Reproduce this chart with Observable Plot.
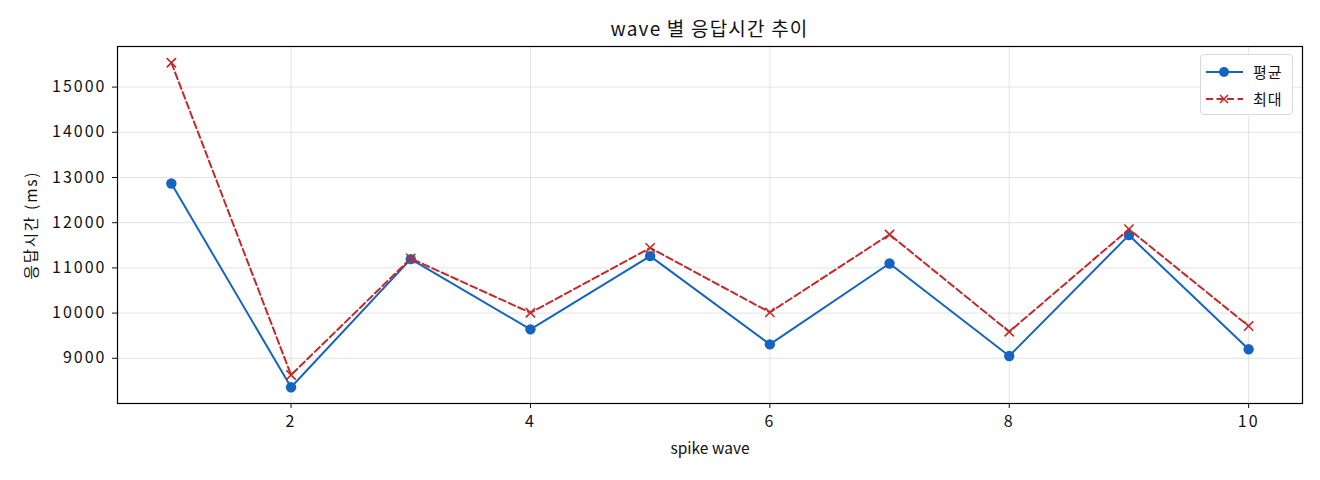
<!DOCTYPE html>
<html>
<head>
<meta charset="utf-8">
<script src="https://cdn.jsdelivr.net/npm/d3@7"></script>
<script src="https://cdn.jsdelivr.net/npm/@observablehq/plot@0.6"></script>
<style>
  body { margin: 0; background: #fff; font-family: "Noto Sans CJK KR", sans-serif; }
  #wrap { position: relative; width: 1320px; height: 480px; }
  #title { height: 45px; width: 1320px; position: relative; }
  #title span { position: absolute; left: 709.5px; top: 14px; transform: translateX(-50%); font-size: 19px; letter-spacing: 1.2px; color: #111; white-space: nowrap; }
  #legend { position: absolute; left: 1200px; top: 54px; width: 93px; height: 61px; border: 1px solid #d8d8d8; border-radius: 4px; background: rgba(255,255,255,0.85); box-sizing: border-box; font-size: 15px; letter-spacing: 1px; color: #111; }
  .row { position: absolute; left: 4px; height: 20px; width: 85px; white-space: nowrap; }
  .row svg { position: absolute; left: 0; top: 0; }
  .row span { position: absolute; left: 48px; top: 0px; line-height: 20px; white-space: nowrap; }
</style>
</head>
<body>
<div id="wrap">
  <div id="title"><span>wave 별 응답시간 추이</span></div>
  <div id="chart"></div>
  <div id="legend"></div>
</div>
<script>
const waves = [1, 2, 3, 4, 5, 6, 7, 8, 9, 10];
const meanMs = [12866, 8359, 11193, 9640, 11260, 9309, 11098, 9051, 11724, 9199];
const maxMs = [15539, 8631, 11209, 10007, 11443, 10016, 11739, 9588, 11856, 9713];
const yTicks = [9000, 10000, 11000, 12000, 13000, 14000, 15000];
const xTicks = [2, 4, 6, 8, 10];
const seriesNames = ["평균", "최대"];
const colors = ["#1565C0", "#C62828"];

const meanData = waves.map((w, i) => ({wave: w, v: meanMs[i]}));
const maxData = waves.map((w, i) => ({wave: w, v: maxMs[i]}));

const xmin = d3.min(waves), xmax = d3.max(waves);
const allV = meanMs.concat(maxMs);
const ymin = d3.min(allV), ymax = d3.max(allV);
const xpad = (xmax - xmin) * 0.05, ypad = (ymax - ymin) * 0.05;

const chart = Plot.plot({
  width: 1320,
  height: 435,
  marginLeft: 117,
  marginRight: 18,
  marginTop: 1,
  marginBottom: 77,
  style: {fontFamily: "'Noto Sans CJK KR', sans-serif", fontSize: "15px", color: "#111", background: "#fff"},
  x: {domain: [xmin - xpad, xmax + xpad]},
  y: {domain: [ymin - ypad, ymax + ypad]},
  marks: [
    Plot.gridX(xTicks, {stroke: "#b0b0b0", strokeOpacity: 0.35, strokeWidth: 1}),
    Plot.gridY(yTicks, {stroke: "#b0b0b0", strokeOpacity: 0.35, strokeWidth: 1}),
    Plot.axisX({ticks: xTicks, tickFormat: "d", tickSize: 5, tickPadding: 7, fontSize: 16,
      label: "spike wave", labelAnchor: "center", labelArrow: "none", labelOffset: 50}),
    Plot.axisY({ticks: yTicks, tickFormat: "d", tickSize: 5, tickPadding: 6, fontSize: 16,
      label: "응답시간 (ms)", labelAnchor: "center", labelArrow: "none", labelOffset: 92}),
    Plot.lineY(meanData, {x: "wave", y: "v", stroke: colors[0], strokeWidth: 2}),
    Plot.dot(meanData, {x: "wave", y: "v", fill: colors[0], r: 5.2, stroke: "none"}),
    Plot.lineY(maxData, {x: "wave", y: "v", stroke: colors[1], strokeWidth: 2, strokeDasharray: "7,3.5"}),
    Plot.dot(maxData, {x: "wave", y: "v", symbol: "times", stroke: colors[1], strokeWidth: 1.6, r: 4.3}),
    Plot.frame({stroke: "#000", strokeWidth: 1.2})
  ]
});
const sel = d3.select(chart);
sel.selectAll("g[aria-label='y-axis tick label'] text").attr("letter-spacing", "2px");
sel.selectAll("g[aria-label='x-axis tick label'] text").attr("letter-spacing", "2px");
sel.selectAll("g[aria-label='y-axis label'] text").attr("letter-spacing", "1.8px").style("font-size", "15.5px");
sel.selectAll("g[aria-label='x-axis label'] text").style("font-size", "15.5px");
document.getElementById("chart").appendChild(chart);

// legend
const legend = document.getElementById("legend");
seriesNames.forEach((name, i) => {
  const row = document.createElement("div");
  row.className = "row";
  row.style.top = (i === 0 ? 7 : 34) + "px";
  const dash = i === 1 ? 'stroke-dasharray="7,3.5"' : "";
  const marker = i === 0
    ? `<circle cx="19" cy="10" r="5" fill="${colors[0]}"/>`
    : `<path d="M15,6 L23,14 M23,6 L15,14" stroke="${colors[1]}" stroke-width="1.6"/>`;
  row.innerHTML = `<svg width="40" height="20"><line x1="1" y1="10" x2="38" y2="10" stroke="${colors[i]}" stroke-width="2" ${dash}/>${marker}</svg><span>${name}</span>`;
  legend.appendChild(row);
});
</script>
</body>
</html>
